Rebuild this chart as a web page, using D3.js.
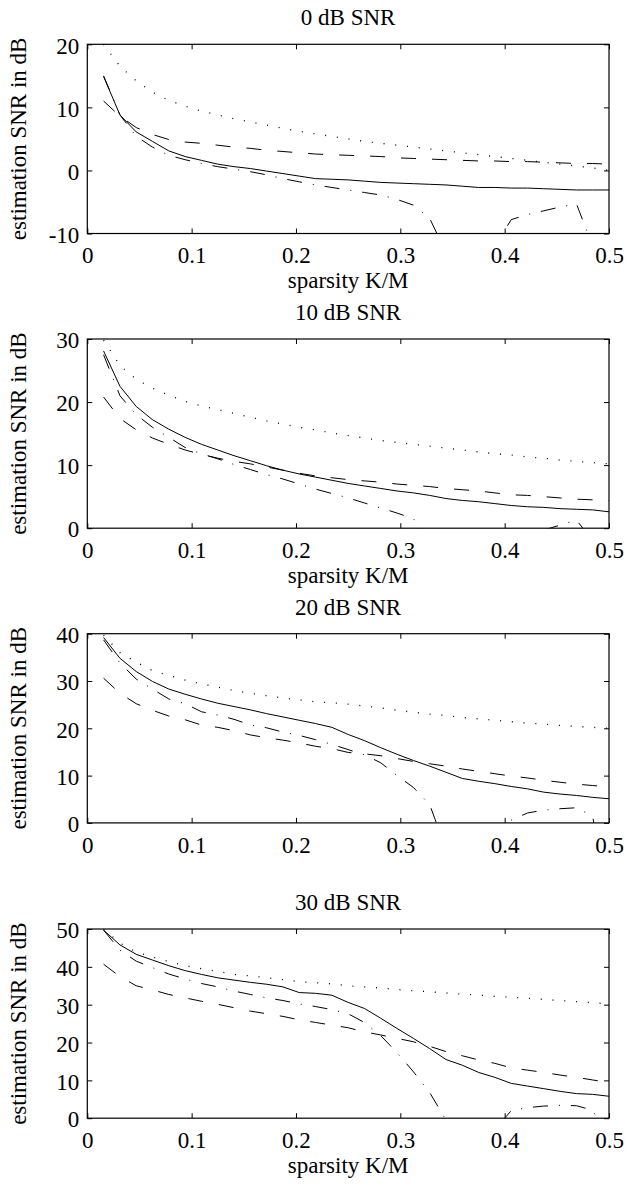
<!DOCTYPE html>
<meta charset="utf-8">
<script src="https://d3js.org/d3.v7.min.js"></script>
<style>
  body { margin: 0; background: #fff; }
  text { font-family: "Liberation Serif", "Times New Roman", serif; fill: #000; }
</style>
<div id="my_dataviz"></div>
<script>

// sparsity K/M (K = 1..32, M = 64)
var sparsity = [0.0156,0.0313,0.0469,0.0625,0.0781,0.0938,0.1094,0.125,0.1406,0.1563,0.1719,0.1875,
  0.2031,0.2188,0.2344,0.25,0.2656,0.2813,0.2969,0.3125,0.3281,0.3438,0.3594,0.375,
  0.3906,0.4063,0.4219,0.4375,0.4531,0.4688,0.4844,0.5];

var xTicks = [0, 0.1, 0.2, 0.3, 0.4, 0.5];
var titles = ["0 dB SNR", "10 dB SNR", "20 dB SNR", "30 dB SNR"];
var yTicks0 = [-10, 0, 10, 20];
var yTicks1 = [0, 10, 20, 30];
var yTicks2 = [0, 10, 20, 30, 40];
var yTicks3 = [0, 10, 20, 30, 40, 50];

// 0 dB SNR
var solid0   = [14.9,8.8,6.1,4.6,3.1,2.2,1.6,1.0,0.6,0.3,-0.1,-0.5,-0.9,-1.3,-1.4,-1.5,-1.7,-1.9,-2.0,-2.1,-2.2,-2.3,-2.5,-2.7,-2.7,-2.8,-2.8,-2.9,-3.0,-3.1,-3.1,-3.1];
var dashed0  = [11.0,8.6,6.8,5.7,4.9,4.5,4.3,4.0,3.7,3.5,3.2,3.0,2.8,2.6,2.5,2.4,2.3,2.2,2.0,1.9,1.8,1.7,1.6,1.5,1.5,1.4,1.4,1.3,1.2,1.1,1.1,1.0];
var dotted0  = [20.0,16.5,14.2,12.4,11.1,10.2,9.4,8.8,8.2,7.7,7.2,6.7,6.2,5.8,5.4,5.0,4.6,4.3,4.0,3.7,3.4,3.1,2.8,2.5,2.2,1.9,1.6,1.3,1.0,0.7,0.4,0.0];
var dashdot0 = [15.0,8.8,5.4,3.7,2.4,1.7,1.1,0.6,0.2,-0.2,-0.7,-1.3,-1.8,-2.3,-2.7,-3.1,-3.5,-3.9,-4.6,-5.5,-7.6,-13,-14,-14,-12,-7.8,-7.0,-6.4,-5.8,-5.3,-12,-14];

// 10 dB SNR
var solid1   = [28.1,22.5,19.3,17.2,15.7,14.4,13.3,12.4,11.5,10.7,9.9,9.2,8.6,8.1,7.6,7.1,6.7,6.3,5.9,5.6,5.2,4.7,4.4,4.2,3.9,3.6,3.4,3.3,3.1,3.0,2.9,2.6];
var dashed1  = [20.8,17.4,15.6,14.3,13.3,12.4,11.7,11.1,10.6,10.2,9.7,9.2,8.7,8.3,8.0,7.7,7.5,7.3,7.0,6.8,6.6,6.3,6.1,5.9,5.6,5.3,5.2,5.0,4.8,4.6,4.5,4.4];
var dotted1  = [29.8,25.8,23.6,22.2,21.1,20.1,19.4,18.8,18.2,17.6,17.0,16.5,16.0,15.6,15.1,14.7,14.3,13.9,13.6,13.3,13.0,12.7,12.4,12.1,11.8,11.6,11.3,11.1,10.8,10.6,10.4,10.2];
var dashdot1 = [27.5,21.0,18.0,16.0,14.4,12.8,11.8,11.0,10.1,9.3,8.5,7.8,7.0,6.2,5.5,4.8,4.0,3.2,2.4,1.5,-1.6,-4,-6,-7,-6,-5,-3,-0.3,0.5,1.3,-2,-5];

// 20 dB SNR
var solid2   = [39.2,34.8,32.0,29.9,28.3,27.2,26.2,25.3,24.6,23.9,23.1,22.4,21.7,21.0,20.2,18.7,17.4,15.9,14.5,13.2,12.0,10.7,9.4,8.8,8.3,7.7,7.2,6.5,6.1,5.8,5.4,5.1];
var dashed2  = [30.6,27.4,25.2,23.8,22.6,21.8,20.7,20.2,19.5,18.6,18.0,17.5,16.9,16.2,15.7,14.9,14.6,14.2,13.6,13.0,12.5,12.0,11.4,10.9,10.4,9.9,9.5,9.0,8.6,8.2,7.9,7.6];
var dotted2  = [39.7,36.0,34.0,32.2,31.2,30.2,29.4,28.7,28.0,27.4,26.9,26.4,26.0,25.6,25.4,25.1,24.7,24.3,23.8,23.4,23.0,22.7,22.3,22.0,21.7,21.4,21.1,20.9,20.6,20.4,20.2,20.0];
var dashdot2 = [38.7,33.8,30.4,28.3,26.2,25.2,23.5,22.8,21.9,20.7,20.1,19.2,18.5,17.6,16.6,15.5,14.4,12.7,10.0,7.5,3.9,-5.6,-8,-8,-8,0.6,2.1,2.7,3.0,3.2,1.4,-20];

// 30 dB SNR
var solid3   = [49.7,45.8,43.3,41.8,40.3,39.0,38.0,37.1,36.5,35.9,35.4,34.7,33.2,33.0,32.5,30.6,29.0,26.4,23.7,21.1,18.4,15.5,14.0,12.1,10.8,9.2,8.5,7.8,7.1,6.5,6.3,5.8];
var dashed3  = [40.7,37.4,35.0,33.9,32.7,31.8,30.9,30.1,29.2,28.3,27.6,26.9,26.0,25.3,24.6,23.9,22.8,22.0,21.1,20.2,19.0,17.6,16.5,15.4,14.5,13.3,12.7,12.1,11.4,10.8,10.1,9.4];
var dotted3  = [50.0,46.3,43.9,42.6,41.4,40.3,39.5,38.8,38.0,37.6,37.1,36.6,36.1,35.8,35.5,35.0,34.7,34.4,34.0,33.7,33.4,33.1,32.8,32.5,32.2,32.0,31.7,31.4,31.1,30.8,30.5,30.2];
var dashdot3 = [49.7,44.4,41.5,39.8,38.1,36.8,35.6,34.7,33.6,32.7,31.8,31.1,30.2,29.5,28.7,27.6,25.3,21.8,17.3,12.3,6.8,-0.5,-8,-8,-3,2.0,2.8,3.2,3.4,3.3,2.1,-6];

// line styles (solid, dashed, dotted, dash-dot)
var styles = ["none", "15,16", "1,10.8", "15,11,1,11"];

var panels = [
  {title: titles[0], yTicks: yTicks0, series: [solid0, dashed0, dotted0, dashdot0], xlabel: true},
  {title: titles[1], yTicks: yTicks1, series: [solid1, dashed1, dotted1, dashdot1], xlabel: true},
  {title: titles[2], yTicks: yTicks2, series: [solid2, dashed2, dotted2, dashdot2], xlabel: false},
  {title: titles[3], yTicks: yTicks3, series: [solid3, dashed3, dotted3, dashdot3], xlabel: true}
];

var width = 626, height = 1184;
var left = 87.3, plotW = 521.7, plotH = 189.2;
var tops = [44.3, 339, 633.7, 929];
var fs = 23;

var svg = d3.select("#my_dataviz")
  .append("svg")
    .attr("width", width)
    .attr("height", height);

var x = d3.scaleLinear().domain([0, 0.5]).range([0, plotW]);

panels.forEach(function(p, i) {
  var g = svg.append("g")
    .attr("transform", "translate(" + left + "," + tops[i] + ")");

  var y = d3.scaleLinear()
    .domain([p.yTicks[0], p.yTicks[p.yTicks.length - 1]])
    .range([plotH, 0]);

  g.append("clipPath").attr("id", "clip" + i)
    .append("rect").attr("width", plotW).attr("height", plotH);

  var line = d3.line()
    .x(function(d, j) { return x(sparsity[j]); })
    .y(function(d) { return y(d); });

  g.append("g").attr("clip-path", "url(#clip" + i + ")")
    .selectAll("path")
    .data(p.series)
    .enter()
    .append("path")
      .attr("d", line)
      .attr("fill", "none")
      .attr("stroke", "#000")
      .attr("stroke-width", function(d, j) { return j == 2 ? 1.3 : 1; })
      .attr("stroke-dasharray", function(d, j) { return styles[j]; });

  // axes, ticks pointing in
  var xb = g.append("g").attr("transform", "translate(0," + plotH + ")")
    .call(d3.axisBottom(x).tickValues(xTicks).tickFormat(String)
      .tickSizeInner(-5).tickSizeOuter(0).tickPadding(13.5));
  var xt = g.append("g")
    .call(d3.axisTop(x).tickValues(xTicks).tickFormat("")
      .tickSizeInner(-5).tickSizeOuter(0));
  var yl = g.append("g")
    .call(d3.axisLeft(y).tickValues(p.yTicks).tickFormat(String)
      .tickSizeInner(-5).tickSizeOuter(0).tickPadding(8));
  var yr = g.append("g").attr("transform", "translate(" + plotW + ",0)")
    .call(d3.axisRight(y).tickValues(p.yTicks).tickFormat("")
      .tickSizeInner(-5).tickSizeOuter(0));

  [xb, xt, yl, yr].forEach(function(a) {
    a.select(".domain").remove();
    a.selectAll("line").attr("stroke", "#000");
    a.selectAll("text")
      .style("font-family", '"Liberation Serif", "Times New Roman", serif')
      .style("font-size", fs + "px");
  });
  yl.selectAll("text").attr("dy", "0.38em");

  g.append("rect")
    .attr("width", plotW).attr("height", plotH)
    .attr("fill", "none").attr("stroke", "#000").attr("stroke-width", 1.2);

  g.append("text")
    .attr("x", plotW / 2).attr("y", -19)
    .attr("text-anchor", "middle")
    .style("font-size", fs + "px")
    .text(p.title);

  g.append("text")
    .attr("transform", "translate(" + (26 - left) + "," + (plotH / 2) + ") rotate(-90)")
    .attr("text-anchor", "middle")
    .style("font-size", fs + "px")
    .text("estimation SNR in dB");

  if (p.xlabel) {
    g.append("text")
      .attr("x", plotW / 2).attr("y", plotH + 55)
      .attr("text-anchor", "middle")
      .style("font-size", fs + "px")
      .text("sparsity K/M");
  }
});

</script>
